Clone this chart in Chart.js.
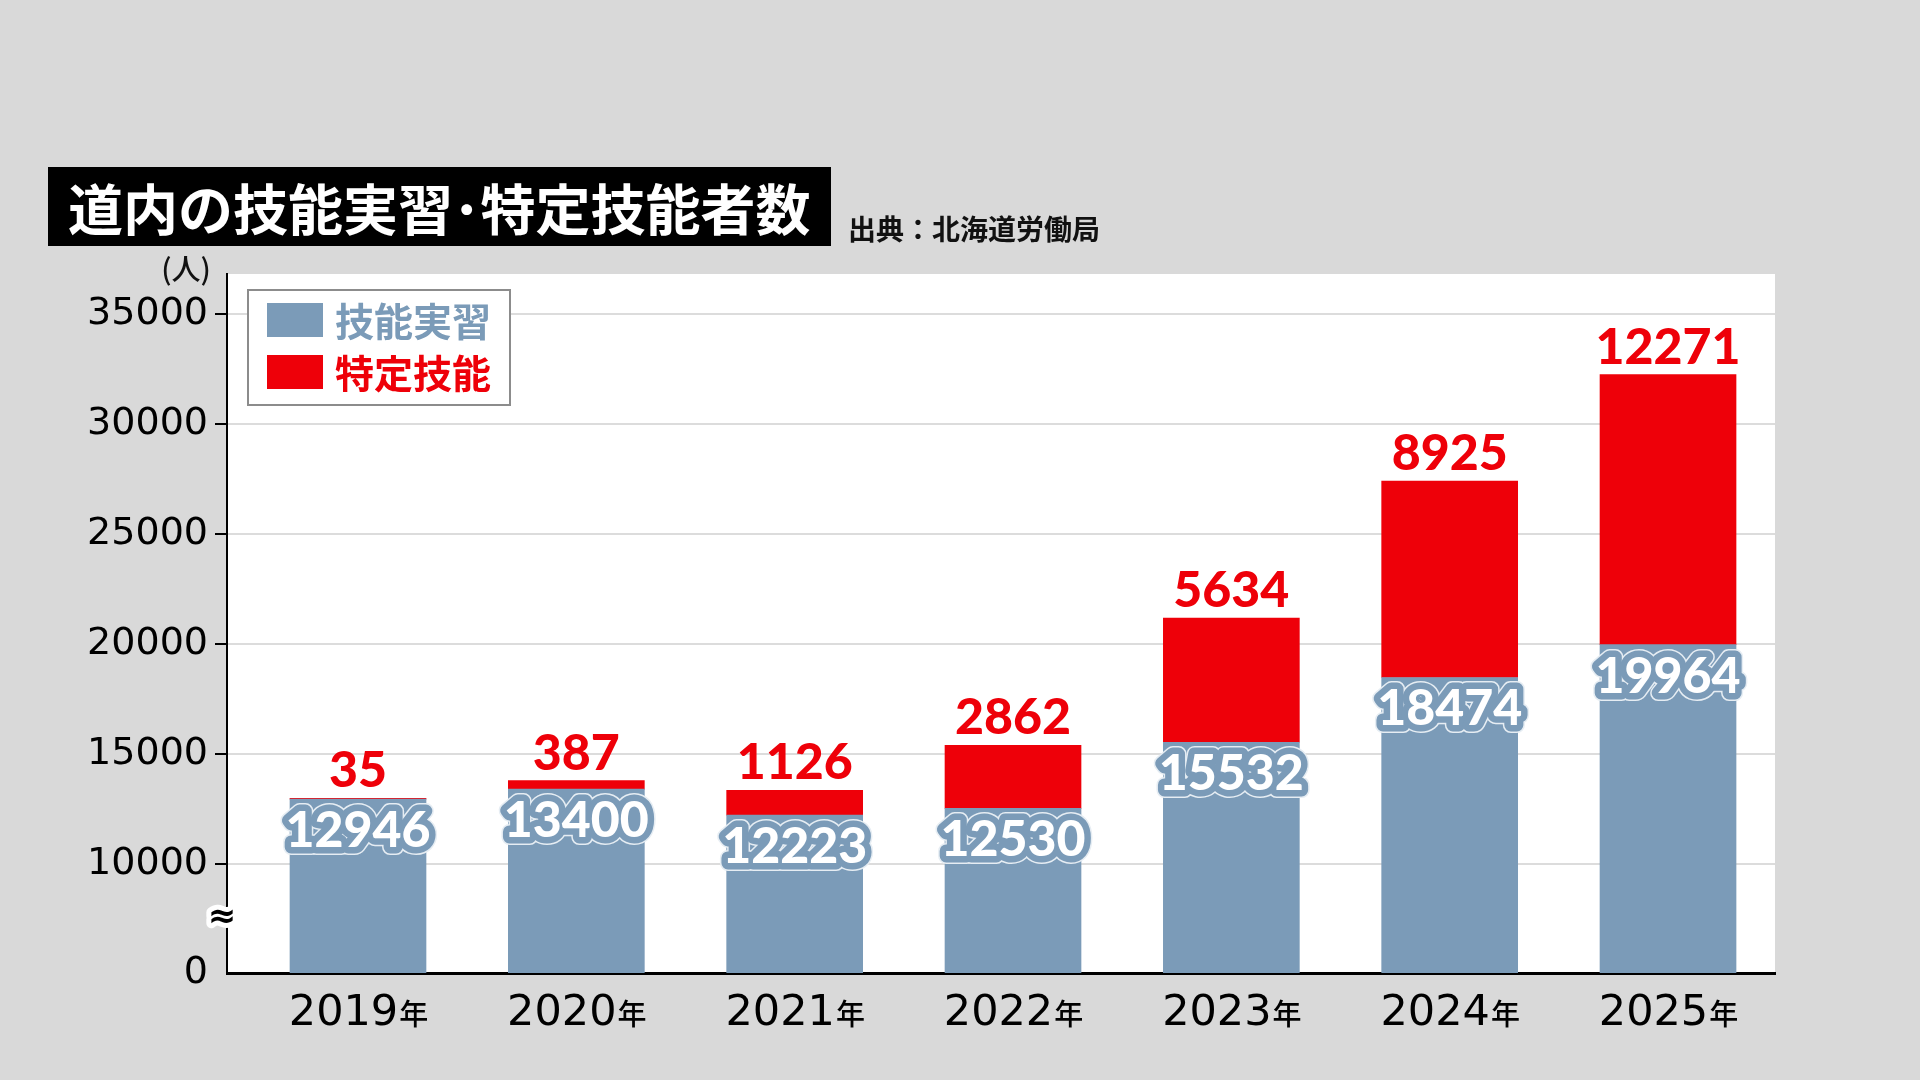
<!DOCTYPE html>
<html lang="ja">
<head>
<meta charset="utf-8">
<title>道内の技能実習・特定技能者数</title>
<script src="https://cdn.jsdelivr.net/npm/chart.js@4.4.1/dist/chart.umd.min.js"></script>
<style>
  html, body { margin: 0; padding: 0; background: #d9d9d9; overflow: hidden; }
  canvas { display: block; }
</style>
</head>
<body>
<canvas id="myChart" width="1920" height="1080" style="width:1920px;height:1080px"></canvas>
<script>
// data (出典：北海道労働局)
const years = ['2019', '2020', '2021', '2022', '2023', '2024', '2025']
const trainees = [12946, 13400, 12223, 12530, 15532, 18474, 19964]
const specified = [35, 387, 1126, 2862, 5634, 8925, 12271]
const seriesNames = ['技能実習', '特定技能']
const yTicks = [10000, 15000, 20000, 25000, 30000, 35000]
const yFloor = 5050   // axis is cut here and shown as 0
const yTop = 36800

const blue = '#7b9bb8'
const red = '#ee0009'
const jp = '"Noto Sans CJK JP", sans-serif'
const num = 'Lato, "DejaVu Sans", sans-serif'

Chart.defaults.font.family = '"DejaVu Sans", sans-serif'
Chart.defaults.color = '#000'

// white plot area, title box, source and unit
const frame = {
    id: 'frame',
    beforeDraw(chart) {
        const { ctx, chartArea: a } = chart
        ctx.save()
        ctx.fillStyle = '#fff'
        ctx.fillRect(a.left, a.top, a.right - a.left, a.bottom - a.top)

        ctx.fillStyle = '#000'
        ctx.fillRect(48, 167, 783, 79)
        ctx.fillStyle = '#fff'
        ctx.font = 'bold 55px ' + jp
        ctx.textBaseline = 'middle'
        ctx.fillText('道内の技能実習･特定技能者数', 68, 209)

        ctx.fillStyle = '#111'
        ctx.font = 'bold 28px ' + jp
        ctx.fillText('出典：北海道労働局', 848, 229)

        ctx.textAlign = 'center'
        ctx.font = '500 29px ' + jp
        ctx.fillText('(人)', 186, 269)
        ctx.restore()
    }
}

// numbers on the bars
const valueLabels = {
    id: 'valueLabels',
    afterDatasetsDraw(chart) {
        const ctx = chart.ctx
        ctx.save()
        ctx.textAlign = 'center'
        ctx.textBaseline = 'alphabetic'
        ctx.font = '900 50px ' + num
        ctx.lineJoin = 'round'

        chart.getDatasetMeta(0).data.forEach((bar, i) => {
            const t = String(trainees[i]), y = bar.y + 48
            ctx.strokeStyle = '#e6edf3'
            ctx.lineWidth = 16
            ctx.strokeText(t, bar.x, y)
            ctx.strokeStyle = blue
            ctx.lineWidth = 13
            ctx.strokeText(t, bar.x, y)
            ctx.fillStyle = '#fff'
            ctx.fillText(t, bar.x, y)
        })

        chart.getDatasetMeta(1).data.forEach((bar, i) => {
            ctx.fillStyle = red
            ctx.fillText(String(specified[i]), bar.x, bar.y - 11)
        })
        ctx.restore()
    }
}

// year labels with a smaller 年
const xLabels = {
    id: 'xLabels',
    afterDraw(chart) {
        const ctx = chart.ctx, xs = chart.scales.x
        const big = '43px "DejaVu Sans", sans-serif', small = '500 29px ' + jp
        ctx.save()
        ctx.fillStyle = '#000'
        ctx.textBaseline = 'alphabetic'
        years.forEach((yr, i) => {
            ctx.font = big
            const w1 = ctx.measureText(yr).width
            ctx.font = small
            const w2 = ctx.measureText('年').width
            const x = xs.getPixelForValue(i) - (w1 + w2) / 2
            ctx.font = big
            ctx.fillText(yr, x, 1025)
            ctx.font = small
            ctx.fillText('年', x + w1 + 1, 1025)
        })
        ctx.restore()
    }
}

// legend box inside the plot
const legendBox = {
    id: 'legendBox',
    afterDraw(chart) {
        const ctx = chart.ctx
        ctx.save()
        ctx.fillStyle = '#fff'
        ctx.fillRect(248, 290, 262, 115)
        ctx.strokeStyle = '#8c8c8c'
        ctx.lineWidth = 2
        ctx.strokeRect(248, 290, 262, 115)
        ctx.font = 'bold 39px ' + jp
        ctx.textBaseline = 'middle'
        chart.data.datasets.forEach((ds, i) => {
            const cy = 320 + i * 52
            ctx.fillStyle = ds.backgroundColor
            ctx.fillRect(267, cy - 17, 56, 34)
            ctx.fillText(ds.label, 335, cy + 1)
        })
        ctx.restore()
    }
}

// ≈ on the y axis (the scale is cut)
const breakMark = {
    id: 'breakMark',
    afterDraw(chart) {
        const ctx = chart.ctx
        ctx.save()
        ctx.font = 'bold 34px "DejaVu Sans", sans-serif'
        ctx.textAlign = 'center'
        ctx.textBaseline = 'middle'
        ctx.lineJoin = 'round'
        ctx.strokeStyle = '#fff'
        ctx.lineWidth = 10
        ctx.strokeText('≈', 222, 918)
        ctx.fillStyle = '#000'
        ctx.fillText('≈', 222, 918)
        ctx.restore()
    }
}

const ctx = document.getElementById('myChart').getContext('2d')
const myChart = new Chart(ctx, {
    type: 'bar',
    data: {
        datasets: [{
            label: seriesNames[0],
            data: trainees.map((v, i) => ({ x: i, y: v })),
            backgroundColor: blue
        }, {
            label: seriesNames[1],
            data: specified.map((v, i) => ({ x: i, y: v })),
            backgroundColor: red
        }]
    },
    options: {
        responsive: false,
        animation: false,
        devicePixelRatio: 1,
        layout: { padding: { top: 274, right: 145, bottom: 0, left: 0 } },
        plugins: {
            legend: { display: false },
            tooltip: { enabled: false }
        },
        datasets: { bar: { barThickness: 136 } },
        scales: {
            x: {
                type: 'linear',
                stacked: true,
                offset: false,
                min: -0.6,
                max: 6.49,
                afterBuildTicks: s => { s.ticks = years.map((y, i) => ({ value: i })) },
                afterFit: s => { s.height = 107 },
                grid: { display: false },
                ticks: { display: false },
                border: { color: '#000', width: 3 }
            },
            y: {
                stacked: true,
                min: yFloor,
                max: yTop,
                afterBuildTicks: s => { s.ticks = [yFloor, ...yTicks].map(v => ({ value: v })) },
                afterFit: s => { s.width = 227 },
                grid: {
                    color: c => (c.tick && c.tick.value === yFloor) ? 'rgba(0,0,0,0)' : '#dcdcdc',
                    tickColor: c => (c.tick && c.tick.value === yFloor) ? 'rgba(0,0,0,0)' : '#000',
                    lineWidth: 2,
                    tickWidth: 2,
                    tickLength: 12
                },
                ticks: {
                    font: { size: 38 },
                    color: '#000',
                    padding: 7,
                    autoSkip: false,
                    callback: v => v === yFloor ? '0' : String(v)
                },
                border: { color: '#000', width: 2 }
            }
        }
    },
    plugins: [frame, valueLabels, legendBox, xLabels, breakMark]
})
</script>
</body>
</html>
